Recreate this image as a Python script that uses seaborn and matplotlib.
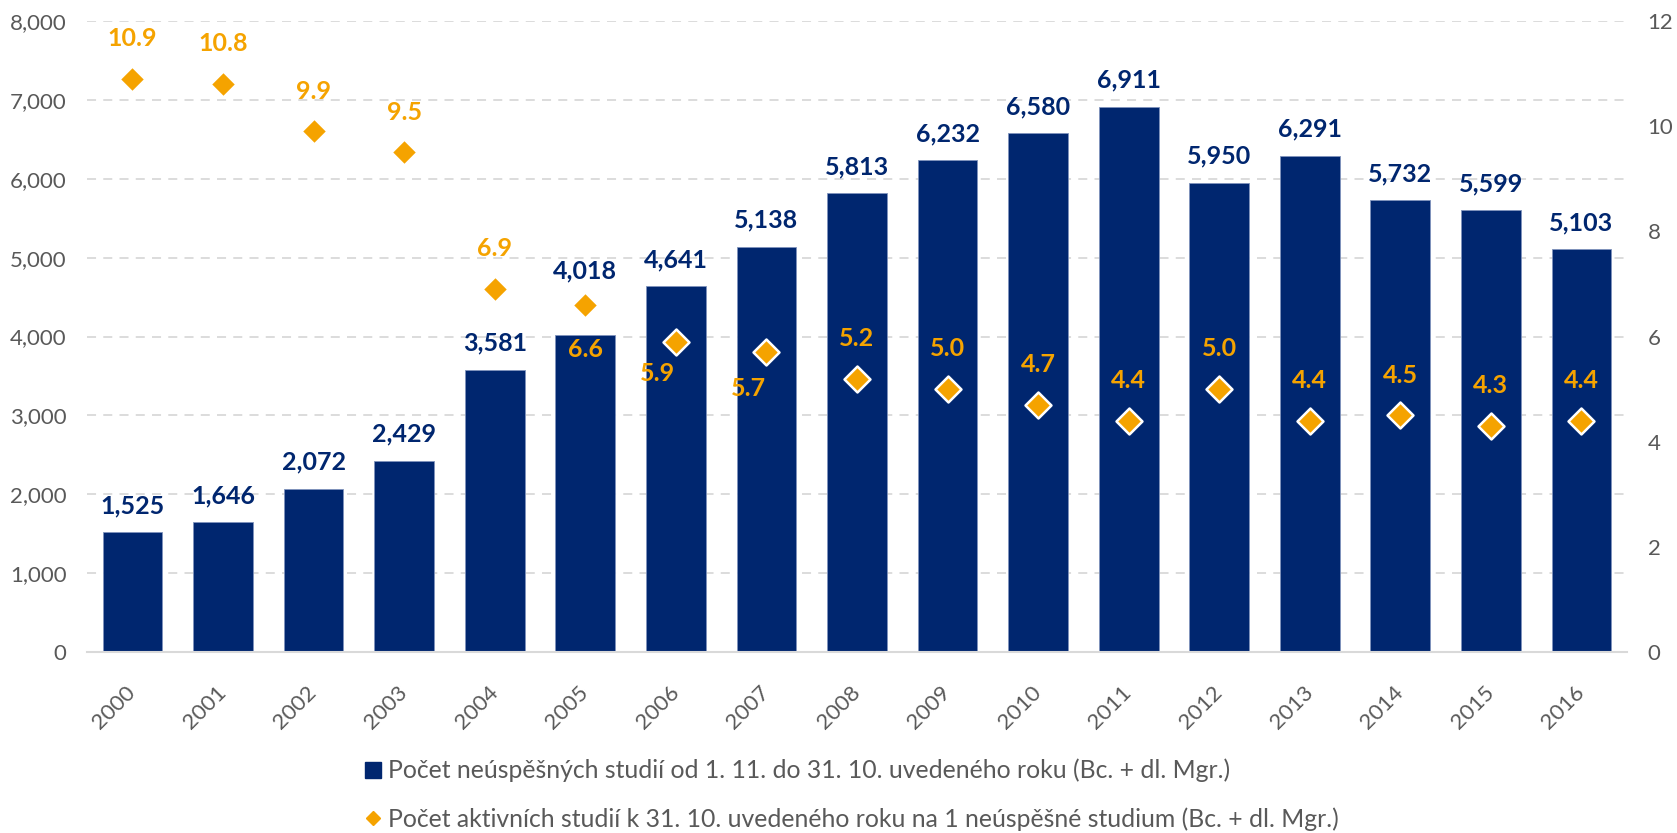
import pandas as pd
import matplotlib
matplotlib.use("Agg")
import matplotlib.pyplot as plt
from matplotlib.lines import Line2D
import seaborn as sns

# data
years = [str(y) for y in range(2000, 2017)]
failed_studies = [1525, 1646, 2072, 2429, 3581, 4018, 4641, 5138, 5813,
                  6232, 6580, 6911, 5950, 6291, 5732, 5599, 5103]
active_per_failed = [10.9, 10.8, 9.9, 9.5, 6.9, 6.6, 5.9, 5.7, 5.2,
                     5.0, 4.7, 4.4, 5.0, 4.4, 4.5, 4.3, 4.4]

bar_label = "Počet neúspěšných studií od 1. 11. do 31. 10. uvedeného roku (Bc. + dl. Mgr.)"
dot_label = "Počet aktivních studií k 31. 10. uvedeného roku na 1 neúspěšné studium (Bc. + dl. Mgr.)"

NAVY = "#00266F"
ORANGE = "#F5A300"
GREY = "#595959"

sns.set_style("white")
plt.rcParams["font.family"] = ["Lato", "DejaVu Sans"]

df = pd.DataFrame({"year": years, "failed": failed_studies, "ratio": active_per_failed})

fig = plt.figure(figsize=(16.77, 8.33), dpi=100)
ax = fig.add_axes([0.052, 0.217, 0.918, 0.758])

# bars
sns.barplot(data=df, x="year", y="failed", color=NAVY, saturation=1, width=0.66,
            edgecolor="#7F93BC", linewidth=0.6, ax=ax)
ax.set_ylim(0, 8000)
ax.set_xlim(-0.5, 16.5)
ax.set_yticks(range(0, 8001, 1000))
ax.set_yticklabels([f"{v:,}" for v in range(0, 8001, 1000)])
ax.yaxis.grid(True, color="#D9D9D9", linestyle=(0, (5, 4)), linewidth=1.3)
ax.set_axisbelow(True)
ax.set_xlabel("")
ax.set_ylabel("")
for s in ["left", "right", "top"]:
    ax.spines[s].set_visible(False)
ax.spines["bottom"].set_color("#D9D9D9")
ax.spines["bottom"].set_linewidth(1.5)
ax.tick_params(axis="y", length=0, pad=15, labelsize=16, labelcolor=GREY)
ax.tick_params(axis="x", which="major", length=0, pad=27, labelsize=16, labelcolor=GREY)
ax.set_xticks([i - 0.5 for i in range(len(years) + 1)], minor=True)
ax.tick_params(axis="x", which="minor", length=7, width=1.5, color="#D9D9D9")
plt.setp(ax.get_xticklabels(), rotation=45, ha="right", va="center", rotation_mode="anchor")

# bar value labels (2005 is pushed up to clear the diamond)
bar_offsets = {"2005": 46}
for i, (yr, v) in enumerate(zip(years, failed_studies)):
    ax.annotate(f"{v:,}", (i, v), xytext=(0, bar_offsets.get(yr, 19)), textcoords="offset points",
                ha="center", va="center", fontsize=18, fontweight="bold", color=NAVY)

# diamonds on the secondary axis
ax2 = ax.twinx()
sns.scatterplot(data=df, x="year", y="ratio", marker="D", s=175, color=ORANGE,
                edgecolor="white", linewidth=1.8, ax=ax2, zorder=5)
ax2.set_ylim(0, 12)
ax2.set_yticks(range(0, 13, 2))
ax2.set_ylabel("")
ax2.grid(False)
for s in ["left", "right", "top", "bottom"]:
    ax2.spines[s].set_visible(False)
ax2.tick_params(axis="y", length=0, pad=15, labelsize=16, labelcolor=GREY)

# label placement that differs from the default "above"
special = {"2005": (0, -32), "2006": (-13, -23), "2007": (-13, -26)}
for i, (yr, v) in enumerate(zip(years, active_per_failed)):
    off = special.get(yr, (0, 29))
    ax2.annotate(f"{v:.1f}", (i, v), xytext=off, textcoords="offset points",
                 ha="center", va="center", fontsize=18, fontweight="bold", color=ORANGE)

handles = [
    Line2D([], [], marker="s", linestyle="none", color=NAVY, markersize=11),
    Line2D([], [], marker="D", linestyle="none", color=ORANGE, markersize=7),
]
fig.legend(handles, [bar_label, dot_label], loc="center left",
           bbox_to_anchor=(0.212, 0.046), frameon=False, fontsize=17.8,
           labelcolor=GREY, handlelength=0.6, handletextpad=0.3,
           labelspacing=1.0, borderaxespad=0)

fig.savefig("out.png", dpi=100)
